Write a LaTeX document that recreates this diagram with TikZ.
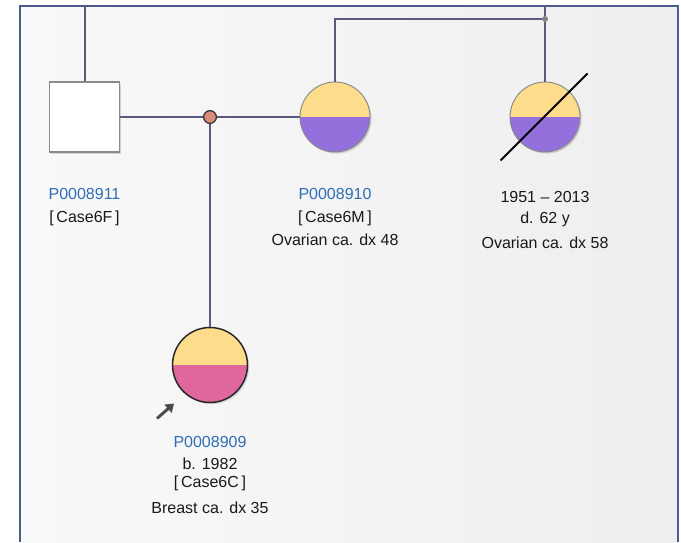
\documentclass[tikz,border=0pt]{standalone}
\usepackage{fontspec}
\setmainfont{Liberation Sans}
\usetikzlibrary{shadows,arrows.meta}

\definecolor{frameblue}{HTML}{4B5B8C}
\definecolor{bgA}{HTML}{F9F9F9}
\definecolor{bgB}{HTML}{EEEEEE}
\definecolor{linkcol}{HTML}{5A5A7C}
\definecolor{affyellow}{HTML}{FDDC8C}
\definecolor{affpurple}{HTML}{9370DB}
\definecolor{affpink}{HTML}{E0679E}
\definecolor{idblue}{HTML}{2F6EB5}
\definecolor{dotred}{HTML}{D98B7C}
\definecolor{outlinegray}{HTML}{8A8A8A}

\begin{document}
\begin{tikzpicture}[x=0.75pt,y=-0.75pt,
  font=\fontsize{12}{14}\selectfont,
  link/.style={draw=linkcol, line width=1.5pt},
  soft shadow/.style={drop shadow={shadow xshift=1.2pt, shadow yshift=-1.2pt, opacity=0.25, fill=black!60}},
  malebox/.style={rectangle, draw=outlinegray, line width=0.8pt, fill=white,
    minimum size=52.5pt, inner sep=0pt, soft shadow},
  femalecirc/.style={circle, fill=affyellow, minimum size=#1, inner sep=0pt, soft shadow},
  femalecirc/.default=52.5pt,
  ringthin/.style={draw=outlinegray, line width=0.7pt},
  ringbold/.style={draw=black!85, line width=1.1pt},
  idtext/.style={text=idblue, anchor=base, inner sep=0pt},
  infotext/.style={text=black!90, anchor=base, inner sep=0pt},
  matedot/.style={circle, fill=dotred, draw=black!80, line width=0.8pt, minimum size=9.5pt, inner sep=0pt},
  sibdot/.style={circle, fill=black!50, minimum size=4.5pt, inner sep=0pt},
  probandarrow/.style={draw=black!70, line width=2.2pt, -{Triangle[length=6pt,width=8pt]}}
]
\useasboundingbox (0,0) rectangle (681,542);

% canvas and frame
\fill[white] (0,0) rectangle (681,542);
\shade[left color=bgA, right color=bgB] (20,6) rectangle (678,542);
\draw[frameblue, line width=1.5pt] (20,542) -- (20,6) -- (678,6) -- (678,542);

% anchor points for connectors leaving the frame
\coordinate (topL) at (84.5,6);
\coordinate (topR) at (545,6);

% individuals
\node[malebox] (f1) at (84.5,117) {};
\node[femalecirc] (m1) at (335,117) {};
\node[femalecirc] (gm) at (545,117) {};
\node[femalecirc=56.25pt] (c1) at (210,365) {};

% lower halves (affection status)
\begin{scope}
  \clip (335,117) circle (35);
  \fill[affpurple] (298,117) rectangle (372,154);
\end{scope}
\begin{scope}
  \clip (545,117) circle (35);
  \fill[affpurple] (508,117) rectangle (582,154);
\end{scope}
\begin{scope}
  \clip (210,365) circle (37.5);
  \fill[affpink] (170,365) rectangle (250,405);
\end{scope}
\draw[ringthin] (335,117) circle (35);
\draw[ringthin] (545,117) circle (35);
\draw[ringbold] (210,365) circle (37.5);

% mating and sibship connectors
\node[sibdot] (sib) at (545,19) {};
\draw[link] (topL) -- (f1.north);
\draw[link] (topR) -- (sib);
\draw[link] (sib) -- (gm.north);
\draw[link] (sib) -| (m1.north);
\node[matedot] (mate) at (210,117) {};
\draw[link] (f1.east) -- (mate);
\draw[link] (mate) -- (m1.west);
\draw[link] (mate) -- (c1.north);
\node[matedot] at (mate) {};

% deceased mark
\coordinate (dA) at (500.5,160.5);
\coordinate (dB) at (587.5,73.5);
\draw[black, line width=1.4pt] (dA) -- (dB);

% proband arrow
\coordinate (pa) at (157,418.5);
\draw[probandarrow] (pa) -- (174,403.5);

% labels
\node[idtext]   (f1id)  at (84.5,199) {P0008911};
\node[infotext] (f1c)   at (84.5,222) {[\,Case6F\,]};

\node[idtext]   (m1id)  at (335,199) {P0008910};
\node[infotext] (m1c)   at (335,222) {[\,Case6M\,]};
\node[infotext] (m1dx)  at (335,245) {Ovarian ca. dx 48};

\node[infotext] (gmyr)  at (545,202) {1951 – 2013};
\node[infotext] (gmage) at (545,223.5) {d. 62 y};
\node[infotext] (gmdx)  at (545,248) {Ovarian ca. dx 58};

\node[idtext]   (c1id)  at (210,447) {P0008909};
\node[infotext] (c1b)   at (210,469) {b. 1982};
\node[infotext] (c1c)   at (210,487) {[\,Case6C\,]};
\node[infotext] (c1dx)  at (210,513) {Breast ca. dx 35};
\end{tikzpicture}
\end{document}
